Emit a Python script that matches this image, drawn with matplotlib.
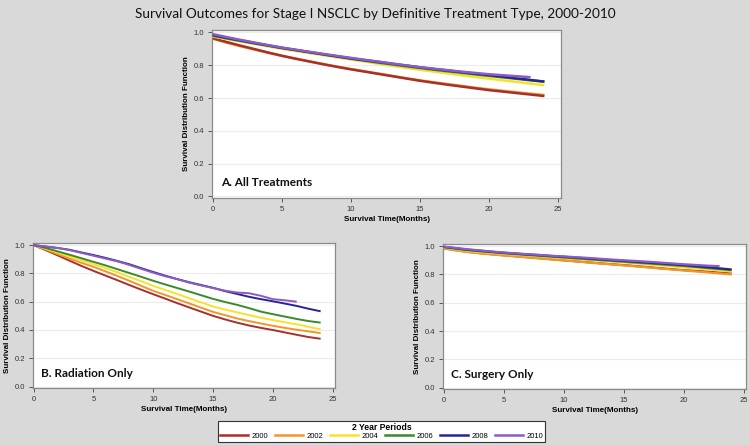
import matplotlib
matplotlib.use("Agg")
import matplotlib.pyplot as plt
from matplotlib.lines import Line2D

plt.rcParams["font.family"] = ["Liberation Sans", "DejaVu Sans"]

months = list(range(25))
years = ["2000", "2002", "2004", "2006", "2008", "2010"]
colors = ["#a8302c", "#f0962a", "#f7e22a", "#3a8a2c", "#2a2490", "#8b5cc6"]

# Panel A: All treatments
a_2000 = [0.965, 0.942, 0.920, 0.899, 0.878, 0.858, 0.840, 0.823, 0.806, 0.790, 0.775, 0.761, 0.747,
          0.733, 0.719, 0.705, 0.693, 0.681, 0.670, 0.659, 0.648, 0.639, 0.630, 0.621, 0.612]
a_2002 = [0.962, 0.938, 0.916, 0.896, 0.876, 0.857, 0.840, 0.823, 0.807, 0.791, 0.777, 0.763, 0.749,
          0.735, 0.721, 0.708, 0.696, 0.685, 0.674, 0.663, 0.653, 0.644, 0.635, 0.626, 0.618]
a_2004 = [0.975, 0.960, 0.945, 0.930, 0.915, 0.900, 0.887, 0.874, 0.861, 0.848, 0.835, 0.822, 0.809,
          0.796, 0.784, 0.772, 0.761, 0.750, 0.739, 0.728, 0.718, 0.708, 0.698, 0.688, 0.678]
a_2006 = [0.980, 0.964, 0.949, 0.934, 0.920, 0.905, 0.892, 0.879, 0.866, 0.853, 0.840, 0.828, 0.816,
          0.805, 0.794, 0.783, 0.773, 0.763, 0.754, 0.744, 0.735, 0.726, 0.717, 0.708, 0.700]
a_2008 = [0.985, 0.968, 0.952, 0.936, 0.921, 0.906, 0.893, 0.880, 0.867, 0.854, 0.842, 0.831, 0.820,
          0.809, 0.798, 0.787, 0.777, 0.768, 0.758, 0.749, 0.740, 0.730, 0.720, 0.710, 0.700]
a_2010 = [0.990, 0.972, 0.955, 0.939, 0.923, 0.908, 0.895, 0.882, 0.869, 0.857, 0.845, 0.833, 0.822,
          0.810, 0.799, 0.788, 0.779, 0.770, 0.761, 0.753, 0.745, 0.739, 0.733, 0.727]

# Panel B: Radiation only
b_2000 = [1.0, 0.965, 0.928, 0.890, 0.853, 0.818, 0.785, 0.752, 0.718, 0.685, 0.653, 0.622, 0.590,
          0.560, 0.530, 0.500, 0.475, 0.452, 0.432, 0.415, 0.400, 0.383, 0.366, 0.350, 0.338]
b_2002 = [1.0, 0.970, 0.937, 0.905, 0.875, 0.847, 0.815, 0.782, 0.748, 0.712, 0.677, 0.648, 0.618,
          0.588, 0.558, 0.528, 0.505, 0.482, 0.463, 0.446, 0.430, 0.415, 0.402, 0.390, 0.378]
b_2004 = [1.0, 0.975, 0.948, 0.920, 0.893, 0.866, 0.838, 0.808, 0.775, 0.745, 0.712, 0.683, 0.655,
          0.625, 0.595, 0.566, 0.545, 0.525, 0.505, 0.487, 0.470, 0.455, 0.440, 0.422, 0.405]
b_2006 = [1.0, 0.980, 0.956, 0.932, 0.907, 0.882, 0.857, 0.830, 0.803, 0.776, 0.748, 0.722, 0.697,
          0.672, 0.646, 0.620, 0.598, 0.578, 0.555, 0.530, 0.512, 0.495, 0.478, 0.463, 0.452]
b_2008 = [1.0, 0.990, 0.980, 0.967, 0.948, 0.930, 0.910, 0.888, 0.865, 0.837, 0.810, 0.784, 0.760,
          0.738, 0.718, 0.698, 0.675, 0.655, 0.635, 0.618, 0.603, 0.587, 0.570, 0.550, 0.532]
b_2010 = [1.0, 0.990, 0.980, 0.965, 0.945, 0.925, 0.905, 0.885, 0.860, 0.832, 0.805, 0.780, 0.760,
          0.735, 0.715, 0.697, 0.678, 0.665, 0.660, 0.642, 0.618, 0.610, 0.600]

# Panel C: Surgery only
c_2000 = [0.985, 0.972, 0.960, 0.951, 0.943, 0.936, 0.929, 0.922, 0.915, 0.907, 0.900, 0.893, 0.886,
          0.879, 0.872, 0.866, 0.859, 0.852, 0.844, 0.837, 0.830, 0.825, 0.819, 0.813, 0.807]
c_2002 = [0.983, 0.970, 0.958, 0.949, 0.941, 0.934, 0.927, 0.920, 0.913, 0.906, 0.899, 0.892, 0.885,
          0.878, 0.871, 0.864, 0.857, 0.850, 0.842, 0.835, 0.828, 0.821, 0.814, 0.807, 0.800]
c_2004 = [0.990, 0.978, 0.967, 0.959, 0.952, 0.945, 0.939, 0.933, 0.927, 0.921, 0.915, 0.909, 0.903,
          0.897, 0.891, 0.885, 0.878, 0.871, 0.864, 0.857, 0.850, 0.843, 0.836, 0.828, 0.820]
c_2006 = [0.993, 0.982, 0.972, 0.964, 0.957, 0.950, 0.944, 0.938, 0.932, 0.926, 0.920, 0.914, 0.908,
          0.902, 0.896, 0.890, 0.884, 0.878, 0.872, 0.866, 0.860, 0.853, 0.845, 0.838, 0.830]
c_2008 = [0.995, 0.985, 0.975, 0.968, 0.960, 0.953, 0.947, 0.941, 0.936, 0.930, 0.925, 0.919, 0.913,
          0.907, 0.901, 0.896, 0.890, 0.884, 0.878, 0.872, 0.866, 0.859, 0.851, 0.843, 0.835]
c_2010 = [0.997, 0.987, 0.978, 0.970, 0.962, 0.955, 0.949, 0.943, 0.938, 0.932, 0.927, 0.922, 0.917,
          0.911, 0.905, 0.900, 0.895, 0.890, 0.884, 0.878, 0.872, 0.867, 0.862, 0.858]

panels = [
    ("A. All Treatments", [a_2000, a_2002, a_2004, a_2006, a_2008, a_2010]),
    ("B. Radiation Only", [b_2000, b_2002, b_2004, b_2006, b_2008, b_2010]),
    ("C. Surgery Only", [c_2000, c_2002, c_2004, c_2006, c_2008, c_2010]),
]

W, H = 750, 445
bg = "#d9d9d9"
fig = plt.figure(figsize=(7.5, 4.45), dpi=100, facecolor=bg)

def px_axes(l, t, r, b):
    return fig.add_axes([l / W, 1 - b / H, (r - l) / W, (b - t) / H])

boxes = [(212, 30, 561, 198), (33, 243, 335, 388), (443, 244, 746, 389)]
lws = [1.8, 1.4, 1.6]

for (label, series), box, lw in zip(panels, boxes, lws):
    ax = px_axes(*box)
    ax.set_facecolor("white")
    for i, (yr, vals, col) in enumerate(zip(years, series, colors)):
        z = 3 + i
        if label.startswith("A") and yr == "2000":
            z = 4.5
        ax.plot(months[:len(vals)], vals, color=col, lw=lw, zorder=z, solid_capstyle="butt")
    ax.set_xlim(-0.05, 25.2)
    ax.set_ylim(-0.01, 1.015)
    ax.set_xticks([0, 5, 10, 15, 20, 25])
    ax.set_yticks([0.0, 0.2, 0.4, 0.6, 0.8, 1.0])
    ax.set_yticklabels(["0.0", "0.2", "0.4", "0.6", "0.8", "1.0"])
    ax.grid(axis="y", color="#ececec", lw=0.8, zorder=0)
    ax.tick_params(labelsize=5.5, length=3, width=0.7, color="#555555", labelcolor="#333333", pad=2.5)
    for s in ax.spines.values():
        s.set_color("#8a8a8a")
        s.set_linewidth(0.9)
    ax.set_ylabel("Survival Distribution Function", fontsize=5.8, fontweight="bold", labelpad=3)
    ax.set_xlabel("Survival Time(Months)", fontsize=5.8, fontweight="bold", labelpad=2.5)
    ax.text(0.025, 0.06, label, transform=ax.transAxes, fontsize=8.5, fontweight="bold",
            family="Lato", ha="left", va="bottom", color="#111111")

fig.text(0.5, 1 - 13.5 / H, "Survival Outcomes for Stage I NSCLC by Definitive Treatment Type, 2000-2010",
         ha="center", va="center", fontsize=9.8, family="Lato", color="#111111")

handles = [Line2D([], [], color=c, lw=1.8) for c in colors]
leg = fig.legend(handles, years, loc="center", bbox_to_anchor=(381.5 / W, 1 - 431.5 / H), ncol=6,
                 title="2 Year Periods", fontsize=5.5, title_fontsize=6.2, frameon=True,
                 handlelength=3.7, handletextpad=0.45, columnspacing=0.85, borderpad=0.3,
                 labelspacing=0.1, fancybox=False, edgecolor="#333333", framealpha=1)
leg.get_title().set_fontweight("bold")
leg.get_frame().set_linewidth(0.8)

fig.savefig("out.png", dpi=100, facecolor=bg)
